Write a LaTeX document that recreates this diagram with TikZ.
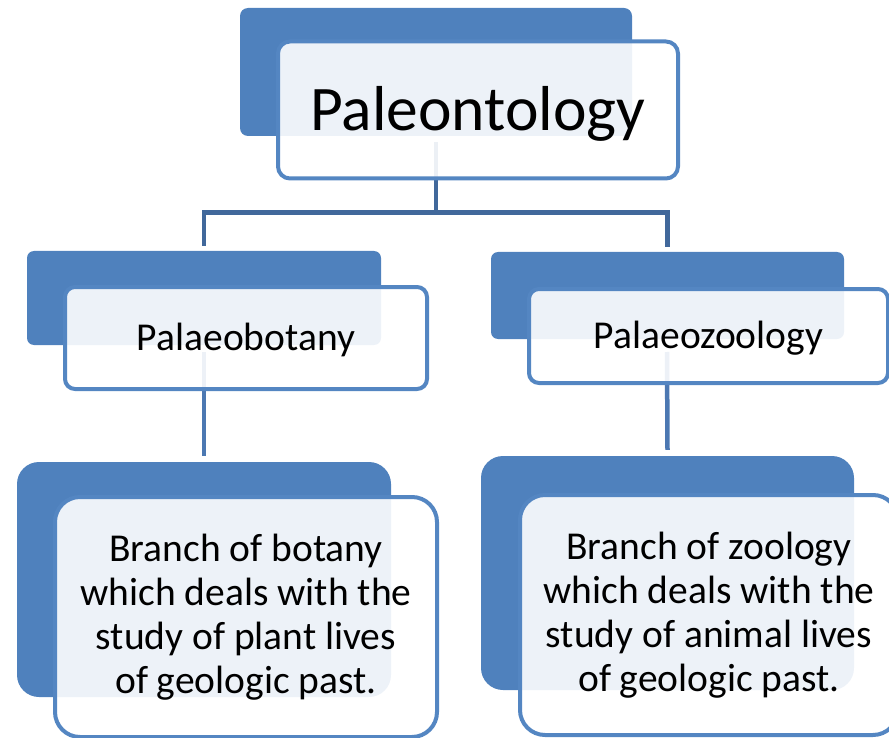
\documentclass[tikz,border=0pt]{standalone}
\usepackage{fontspec}
\setmainfont{Carlito}
\usetikzlibrary{calc}

\definecolor{boxblue}{RGB}{79,129,189}
\definecolor{rimblue}{RGB}{84,134,194}
\definecolor{linkdark}{RGB}{65,104,155}
\definecolor{linkblue}{RGB}{76,120,178}

\tikzset{
	backbox/.style={fill=boxblue, inner sep=0pt},
	frontbox/.style={draw=rimblue, line width=4pt, fill=white, fill opacity=0.9,
		text opacity=1, inner sep=0pt, align=center},
	link/.style={line width=4.5pt}
}

\begin{document}
\begin{tikzpicture}[x=1pt,y=-1pt]
	\useasboundingbox (0,0) rectangle (889,738);
	
	% back plates
	\node[backbox, rounded corners=8pt, minimum width=392pt, minimum height=128pt] (paleoback) at (436,72) {};
	\node[backbox, rounded corners=7pt, minimum width=354pt, minimum height=94pt] (botback) at (204,298) {};
	\node[backbox, rounded corners=7pt, minimum width=353pt, minimum height=87pt] (zooback) at (667.5,295.5) {};
	\node[backbox, rounded corners=22pt, minimum width=374pt, minimum height=235pt] (botdescback) at (204,579.5) {};
	\node[backbox, rounded corners=22pt, minimum width=373pt, minimum height=234pt] (zoodescback) at (667.5,573) {};
	
	% connectors
	\coordinate (paleo-in) at (436,142);
	\coordinate (fork) at (436,212.5);
	\coordinate (bot-in) at (204,352);
	\coordinate (zoo-in) at (667,352);
	\draw[link, linkdark] (paleo-in) -- (fork);
	\draw[link, linkdark] (fork) -| ([yshift=5pt]botback.north);
	\draw[link, linkdark] (fork) -| ([yshift=5pt]zooback.north);
	\draw[link, linkblue] (bot-in) -- ([yshift=6pt]botdescback.north);
	\draw[link, linkblue] (zoo-in) -- ([yshift=6pt]zoodescback.north);
	
	% front boxes
	\node[frontbox, rounded corners=12pt, minimum width=400pt, minimum height=137pt,
		font=\fontsize{63.5}{74}\selectfont, text height=41pt, text depth=0pt] (paleo) at (478,110) {Paleontology};
	\node[frontbox, rounded corners=10pt, minimum width=362pt, minimum height=102pt,
		font=\fontsize{39.5}{46}\selectfont, text height=25pt, text depth=0pt] (bot) at (246,338) {Palaeobotany};
	\node[frontbox, rounded corners=10pt, minimum width=359pt, minimum height=94pt,
		font=\fontsize{39.5}{46}\selectfont, text height=25pt, text depth=0pt] (zoo) at (708.5,336) {Palaeozoology};
	\node[frontbox, rounded corners=25pt, minimum width=382pt, minimum height=240pt,
		font=\fontsize{39.5}{44}\selectfont] (botdesc) at (246,617) {Branch of botany\\which deals with the\\study of plant lives\\of geologic past.};
	\node[frontbox, rounded corners=25pt, minimum width=378pt, minimum height=240pt,
		font=\fontsize{39.5}{44}\selectfont] (zoodesc) at (709,615) {Branch of zoology\\which deals with the\\study of animal lives\\of geologic past.};
\end{tikzpicture}
\end{document}
